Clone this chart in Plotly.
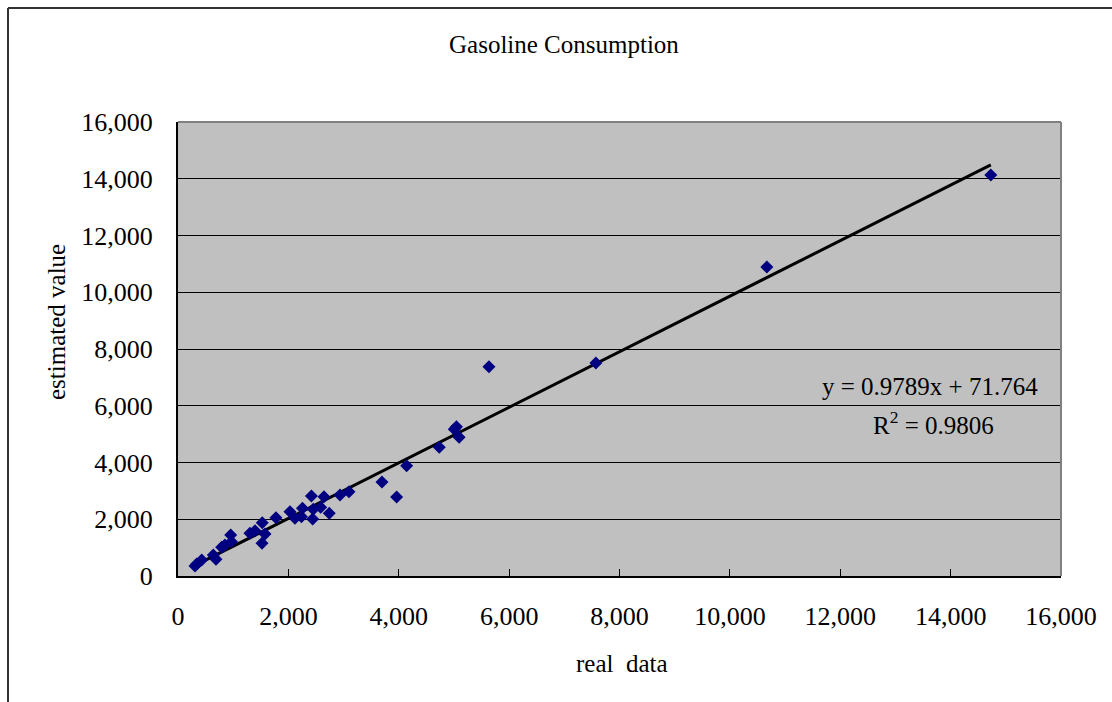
import plotly.graph_objects as go

# Gasoline consumption: observed values vs. model estimates
real_data = [14728, 10670, 7572, 5634, 5045, 5094, 5006, 4734, 4143, 3696,
             3961, 3098, 2935, 2741, 2645, 2585, 2418, 2451, 2440, 2237,
             2255, 2119, 2029, 1775, 1527, 1576, 1522, 1395, 1304, 955,
             969, 851, 791, 640, 688, 429, 339, 308]
estimated = [14132, 10890, 7507, 7377, 5262, 4888, 5170, 4535, 3888, 3313,
             2784, 2971, 2855, 2209, 2795, 2420, 2819, 2350, 2009, 2091,
             2385, 2033, 2267, 2056, 1879, 1480, 1152, 1597, 1504, 1445,
             1210, 1093, 1011, 740, 589, 564, 423, 352]

# linear trendline reported by the fit
slope = 0.9789
intercept = 71.764
r_squared = 0.9806

x_ticks = list(range(0, 16001, 2000))
y_ticks = list(range(0, 16001, 2000))

FONT = "Liberation Serif, Times New Roman, serif"

x_lo, x_hi = min(real_data), max(real_data)
trend_x = [x_lo, x_hi]
trend_y = [slope * v + intercept for v in trend_x]

fig = go.Figure()
fig.add_trace(go.Scatter(
    x=trend_x, y=trend_y, mode="lines",
    line=dict(color="black", width=3), hoverinfo="skip", showlegend=False,
))
fig.add_trace(go.Scatter(
    x=real_data, y=estimated, mode="markers",
    marker=dict(symbol="diamond", size=10, color="#000080",
                line=dict(width=0)),
    showlegend=False,
))

axis_common = dict(
    showline=True, linecolor="black", linewidth=2,
    ticks="inside", ticklen=7, tickcolor="black", tickwidth=1,
    tickfont=dict(family=FONT, size=26, color="black"),
    tickformat=",d", zeroline=False,
)

fig.update_xaxes(range=[0, 16000], tickvals=x_ticks, showgrid=False,
                 ticklabelstandoff=16, **axis_common)
fig.update_yaxes(range=[0, 16000], tickvals=y_ticks, showgrid=True,
                 gridcolor="black", gridwidth=1, ticklabelstandoff=18,
                 **axis_common)

# plot-area frame (grey top/right) and outer chart frame
shapes = [
    dict(type="line", xref="paper", yref="paper", x0=0, x1=1, y0=1, y1=1,
         line=dict(color="#808080", width=2)),
    dict(type="line", xref="paper", yref="paper", x0=1, x1=1, y0=0, y1=1,
         line=dict(color="#808080", width=2)),
]
px_w, px_h = 883.0, 454.0
left_px, bottom_px = 178.0, 576.0
def px_to_paper_x(px):
    return (px - left_px) / px_w
def px_to_paper_y(py):
    return (bottom_px - py) / px_h
shapes += [
    dict(type="line", xref="paper", yref="paper",
         x0=px_to_paper_x(8), x1=px_to_paper_x(1130),
         y0=px_to_paper_y(8), y1=px_to_paper_y(8),
         line=dict(color="#333333", width=2)),
    dict(type="line", xref="paper", yref="paper",
         x0=px_to_paper_x(8), x1=px_to_paper_x(8),
         y0=px_to_paper_y(8), y1=px_to_paper_y(720),
         line=dict(color="#333333", width=2)),
]

def label(text, px, py, size=25, angle=0):
    return dict(text=text, xref="paper", yref="paper",
                x=px_to_paper_x(px), y=px_to_paper_y(py),
                xanchor="center", yanchor="middle", showarrow=False,
                textangle=angle,
                font=dict(family=FONT, size=size, color="black"))

annotations = [
    label("Gasoline Consumption", 564, 45),
    label("real  data", 622, 663),
    label("estimated value", 56, 322, angle=-90),
    label(f"y = {slope}x + {intercept}", 930, 386),
    label(f"R<sup>2</sup> = {r_squared}", 933, 423),
]

fig.update_layout(
    width=1112, height=702,
    margin=dict(l=178, r=51, t=122, b=126, autoexpand=False),
    paper_bgcolor="white", plot_bgcolor="#C0C0C0",
    shapes=shapes, annotations=annotations,
    font=dict(family=FONT, color="black"),
)

fig.write_html("out.html")
